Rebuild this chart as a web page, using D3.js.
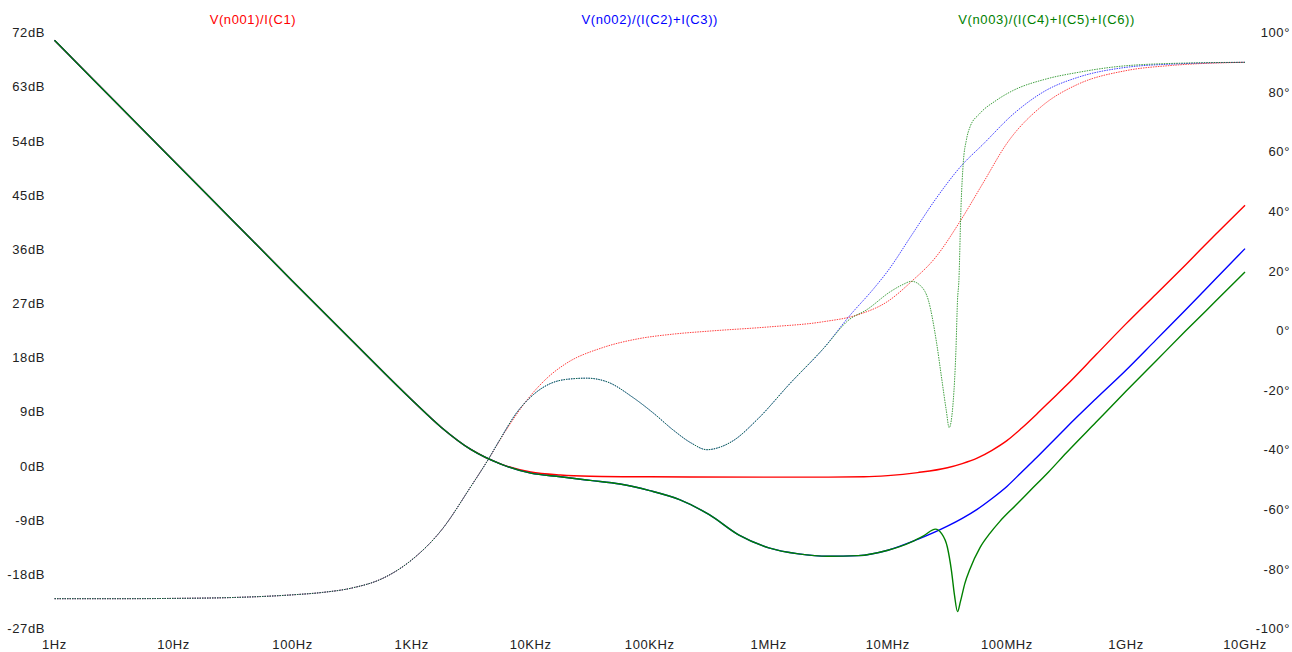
<!DOCTYPE html>
<html>
<head>
<meta charset="utf-8">
<script src="https://cdn.jsdelivr.net/npm/d3@7"></script>
<style>
  body { margin: 0; background: #fff; }
  text { font-family: "Liberation Sans", Arial, sans-serif; font-size: 13px; fill: #222; letter-spacing: 0.6px; }
</style>
</head>
<body>
<div id="chart"></div>
<script>
// x axis: frequency, stored as decade exponent (log10 Hz)
var freqTicks = [0, 1, 2, 3, 4, 5, 6, 7, 8, 9, 10];
var freqLabels = ["1Hz", "10Hz", "100Hz", "1KHz", "10KHz", "100KHz", "1MHz", "10MHz", "100MHz", "1GHz", "10GHz"];
var dbTicks = [72, 63, 54, 45, 36, 27, 18, 9, 0, -9, -18, -27];
var degTicks = [100, 80, 60, 40, 20, 0, -20, -40, -60, -80, -100];

var traceNames = ["V(n001)/I(C1)", "V(n002)/(I(C2)+I(C3))", "V(n003)/(I(C4)+I(C5)+I(C6))"];
var traceColors = ["#ff0000", "#0000ff", "#008000"];

// magnitude (dB), [decade, dB] -- low end is common to all three
var magLow = [[0, 70.7], [0.5, 60.7], [1, 50.7], [1.5, 40.7], [2, 30.7], [2.5, 20.8], [3, 11.0],
  [3.25, 6.4], [3.5, 2.7], [3.75, 0.3]];
var mag1 = [[4, -1.0], [4.25, -1.5], [4.5, -1.7], [5, -1.8], [6, -1.85], [6.5, -1.85], [6.8, -1.8],
  [7, -1.6], [7.25, -1.1], [7.5, -0.3], [7.625, 0.4], [7.75, 1.3], [7.875, 2.6], [8, 4.2], [8.125, 6.3],
  [8.25, 8.6], [8.375, 11.0], [8.5, 13.4], [8.75, 18.5], [9, 23.6], [9.25, 28.5], [9.5, 33.4],
  [9.75, 38.4], [10, 43.3]];
var magMid = [[4, -1.2], [4.25, -1.8], [4.5, -2.4], [4.75, -3.0], [5, -4.1], [5.25, -5.6], [5.5, -8.1],
  [5.75, -11.5], [6, -13.6], [6.25, -14.6], [6.5, -15.0], [6.75, -14.9], [7, -14.0]];
var mag2 = [[7.25, -12.2], [7.5, -10.0], [7.625, -8.7], [7.75, -7.2], [7.875, -5.4], [8, -3.4],
  [8.125, -1.0], [8.25, 1.4], [8.375, 3.9], [8.5, 6.4], [8.75, 11.2], [9, 15.9], [9.25, 20.9],
  [9.5, 25.9], [9.75, 31.0], [10, 36.1]];
var mag3 = [[7.1, -13.4], [7.2, -12.6], [7.3, -11.6], [7.4, -10.5], [7.45, -11.2], [7.5, -13.5],
  [7.535, -17.5], [7.56, -21.5], [7.585, -24.2], [7.61, -22.5], [7.647, -19.5], [7.69, -17.1],
  [7.773, -13.6], [7.857, -11.2], [7.941, -9.2], [8.07, -6.6], [8.2, -4.0], [8.35, -1.0], [8.5, 2.2],
  [8.75, 7.3], [9, 12.4], [9.25, 17.4], [9.5, 22.4], [9.75, 27.3], [10, 32.2]];

// phase (degrees), [decade, deg]
var phLow = [[0, -90.0], [0.5, -90.0], [1, -89.9], [1.5, -89.6], [2, -88.7], [2.25, -87.9], [2.5, -86.4],
  [2.75, -83.3], [3, -77.0], [3.25, -67.0], [3.5, -52.2], [3.64, -43.5]];
var ph1 = [[3.8, -33.0], [4, -21.8], [4.15, -15.5], [4.3, -11.0], [4.6, -5.8], [4.9, -2.8], [5.2, -1.2],
  [5.5, -0.2], [6, 1.2], [6.45, 2.9], [6.75, 5.3], [7, 9.8], [7.2, 16.5], [7.4, 24.5], [7.6, 36.2],
  [7.8, 49.5], [8, 62.8], [8.3, 75.5], [8.6, 82.7], [9, 87.2], [9.4, 89.0], [10, 90.0]];
var phMid = [[3.74, -36.7], [3.88, -27.7], [4.02, -21.6], [4.16, -17.9], [4.3, -16.4], [4.47, -16.0],
  [4.64, -17.2], [4.86, -22.5], [5.03, -27.7], [5.2, -33.5], [5.35, -37.8], [5.48, -40.0], [5.6, -39.0],
  [5.7, -37.0], [5.9, -30.0], [6.18, -17.7], [6.46, -6.0]];
var ph2 = [[6.68, 5.0], [6.88, 14.0], [7, 20.0], [7.2, 32.0], [7.4, 44.0], [7.62, 55.4], [7.8, 62.5],
  [8.05, 72.5], [8.33, 80.6], [8.6, 85.0], [9, 88.3], [9.45, 89.5], [10, 90.0]];
var ph3 = [[6.68, 3.8], [6.82, 6.9], [7.02, 13.0], [7.12, 15.3], [7.2, 16.5], [7.28, 14.8], [7.34, 10.2],
  [7.41, -4.3], [7.45, -15.5], [7.49, -26.6], [7.515, -32.6], [7.55, -23.3], [7.572, -6.5], [7.585, 10.0],
  [7.597, 17.0], [7.614, 41.0], [7.633, 56.0], [7.66, 64.0], [7.69, 68.3], [7.77, 72.7], [7.91, 77.2],
  [8.05, 80.5], [8.33, 84.4], [8.61, 86.7], [8.89, 88.4], [9.45, 89.7], [10, 90.0]];

var width = 1292, height = 652;

var svg = d3.select("#chart").append("svg")
    .attr("width", width)
    .attr("height", height);

var x = d3.scaleLog().domain([1, 1e10]).range([54.5, 1245]);
var yDb = d3.scaleLinear().domain([-27, 72]).range([628.5, 32.5]);
var yDeg = d3.scaleLinear().domain([-100, 100]).range([628.5, 32.5]);

// tick labels, no axis lines in the original
svg.selectAll(".dbl").data(dbTicks).enter().append("text")
    .attr("x", 45)
    .attr("y", function(d) { return yDb(d); })
    .attr("dy", "0.36em")
    .attr("text-anchor", "end")
    .text(function(d) { return d + "dB"; });

svg.selectAll(".degl").data(degTicks).enter().append("text")
    .attr("x", 1290)
    .attr("y", function(d) { return yDeg(d); })
    .attr("dy", "0.36em")
    .attr("text-anchor", "end")
    .text(function(d) { return d + "\u00b0"; });

svg.selectAll(".fl").data(freqTicks).enter().append("text")
    .attr("x", function(d) { return x(Math.pow(10, d)); })
    .attr("y", 648.5)
    .attr("text-anchor", "middle")
    .text(function(d, i) { return freqLabels[i]; });

// trace titles at 1/6, 3/6, 5/6 of the plot width
svg.selectAll(".title").data(traceNames).enter().append("text")
    .attr("x", function(d, i) { return 54.5 + (1245 - 54.5) * (2 * i + 1) / 6; })
    .attr("y", 24)
    .attr("text-anchor", "middle")
    .style("fill", function(d, i) { return traceColors[i]; })
    .text(function(d) { return d; });

var magLine = d3.line()
    .x(function(d) { return x(Math.pow(10, d[0])); })
    .y(function(d) { return yDb(d[1]); })
    .curve(d3.curveMonotoneX);

var phLine = d3.line()
    .x(function(d) { return x(Math.pow(10, d[0])); })
    .y(function(d) { return yDeg(d[1]); })
    .curve(d3.curveMonotoneX);

var phases = [phLow.concat(ph1), phLow.concat(phMid, ph2), phLow.concat(phMid, ph3)];
var mags = [magLow.concat(mag1), magLow.concat(magMid, mag2), magLow.concat(magMid, mag3)];

// phase traces dotted, drawn first
svg.selectAll(".ph").data(phases).enter().append("path")
    .attr("d", phLine)
    .attr("fill", "none")
    .attr("stroke", function(d, i) { return traceColors[i]; })
    .attr("stroke-width", 1)
    .attr("stroke-dasharray", "1.5,1")
    .attr("opacity", 0.75);

svg.selectAll(".mag").data(mags).enter().append("path")
    .attr("d", magLine)
    .attr("fill", "none")
    .attr("stroke", function(d, i) { return traceColors[i]; })
    .attr("stroke-width", 1.4);
</script>
</body>
</html>
